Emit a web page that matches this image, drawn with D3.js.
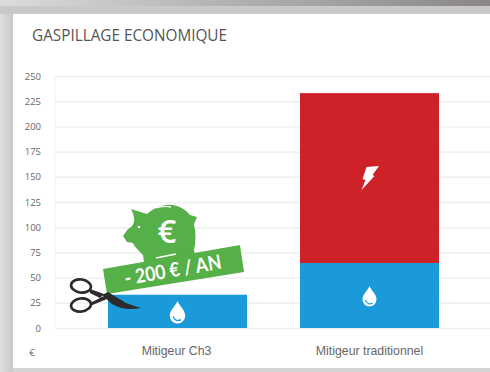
<!DOCTYPE html>
<html><head><meta charset="utf-8">
<script src="https://cdnjs.cloudflare.com/ajax/libs/d3/7.8.5/d3.min.js"></script>
<style>html,body{margin:0;padding:0;background:#fff}svg{display:block}</style></head>
<body><div id="chart"></div>
<script>
const categories = ["Mitigeur Ch3", "Mitigeur traditionnel"];
const waterValues = [33, 64.5];
const electricValues = [0, 168.5];
const tickValues = [0,25,50,75,100,125,150,175,200,225,250];
const titleText = "GASPILLAGE ECONOMIQUE";
const unitLabel = "€";
const savingLabel = "- 200 € / AN";

const W = 490, H = 372;
const svg = d3.select("#chart").append("svg").attr("width",W).attr("height",H);
const defs = svg.append("defs");
const g1 = defs.append("linearGradient").attr("id","top");
g1.append("stop").attr("offset","0").attr("stop-color","#dcdcdc");
g1.append("stop").attr("offset","0.45").attr("stop-color","#b4b2b2");
g1.append("stop").attr("offset","1").attr("stop-color","#8b8788");
const g2 = defs.append("linearGradient").attr("id","left");
g2.append("stop").attr("offset","0").attr("stop-color","#dedede");
g2.append("stop").attr("offset","0.026").attr("stop-color","#c9c9c9");
g2.append("stop").attr("offset","1").attr("stop-color","#c9c9c9");

svg.append("rect").attr("width",W).attr("height",H).attr("fill","url(#left)");
svg.append("rect").attr("width",W).attr("height",6).attr("fill","url(#top)");
svg.append("rect").attr("y",6).attr("width",W).attr("height",8).attr("fill","#c8c9ca");
svg.append("rect").attr("x",13).attr("y",14).attr("width",W-13).attr("height",354).attr("fill","#fff");
svg.append("rect").attr("x",13).attr("y",368).attr("width",W-13).attr("height",4).attr("fill","#d4d4d4");

svg.append("text").text(titleText).attr("x",32).attr("y",41)
  .attr("font-family","'Open Sans'").attr("font-size",15.5).attr("fill","#555")
  .attr("textLength",195).attr("lengthAdjust","spacingAndGlyphs");

const y = d3.scaleLinear().domain([0,250]).range([328,76]);
const x = d3.scalePoint().domain(categories).range([177.5,369.5]);
const barW = 139;

const axis = svg.append("g").attr("transform","translate(55,0)")
  .call(d3.axisLeft(y).tickValues(tickValues).tickSize(-(W-55)).tickPadding(14));
axis.select(".domain").remove();
axis.selectAll("line").attr("stroke","#eceeef").attr("stroke-width",1.4);
axis.selectAll("text").attr("font-family","'Open Sans'").attr("font-size",9.5).attr("fill","#666");
svg.append("line").attr("x1",55).attr("x2",55).attr("y1",y(250)).attr("y2",y(0))
  .attr("stroke","#f0f1f2").attr("stroke-width",1);
svg.append("text").text(unitLabel).attr("x",32).attr("y",356)
  .attr("text-anchor","middle").attr("font-family","'Open Sans'").attr("font-size",9.5).attr("fill","#666");

svg.selectAll(".water").data(categories).join("rect").attr("class","water")
  .attr("x",d=>x(d)-barW/2).attr("width",barW)
  .attr("y",(d,i)=>y(waterValues[i]))
  .attr("height",(d,i)=>y(0)-y(waterValues[i])).attr("fill","#1b9ad9");
svg.selectAll(".elec").data(categories).join("rect").attr("class","elec")
  .attr("x",d=>x(d)-barW/2).attr("width",barW)
  .attr("y",(d,i)=>y(waterValues[i]+electricValues[i]))
  .attr("height",(d,i)=>y(waterValues[i])-y(waterValues[i]+electricValues[i])).attr("fill","#cf2228");

svg.selectAll(".cat").data(categories).join("text").attr("class","cat").text(d=>d)
  .attr("x",d=>x(d)-(d===categories[0]?1:0)).attr("y",355).attr("text-anchor","middle")
  .attr("font-family","'Liberation Sans Narrow','Liberation Sans'").attr("font-size",12.3).attr("fill","#666");

// drop icons
const drop = "M0,-11 C2,-6 7,-3 7,2.5 A7,7 0 0 1 -7,2.5 C-7,-3 -2,-6 0,-11Z";
categories.forEach((c,i)=>{
  const t = svg.append("g").attr("transform",`translate(${x(c)},${i?297:313}) scale(${i?1:1.1})`);
  t.append("path").attr("d",drop).attr("fill","#fff");
  t.append("path").attr("d","M-4,3 A4.5,4.5 0 0 0 3,6").attr("fill","none").attr("stroke","#1b9ad9").attr("stroke-width",1.2);
});
// lightning
svg.append("path").attr("transform",`translate(${x(categories[1])},178)`)
  .attr("d","M-3,-11 L9.5,-12 L3,-3 L5,-2 L-8,12 L-4,2 L-7,1Z").attr("fill","#fff");

// piggy
const green = "#55b047";
const pig = svg.append("g");
pig.append("path").attr("fill",green).attr("d",
 "M131,209 L147,214 C155,207 165,204 172,205 C180,206 186,210 190,215 L197,217 L194,224 C196,232 196,242 194,250 L196,258 L144,262 L143,255 C138,250 134,246 133,243 L127,242 L123,236 L128,229 C134,226 137,220 131,209Z");
pig.append("path").attr("d","M156,208 C161,206 166,206 171,207").attr("stroke","#fff").attr("stroke-width",1.3).attr("fill","none");
pig.append("circle").attr("cx",139).attr("cy",227).attr("r",1.3).attr("fill","#fff");
pig.append("path").attr("d","M156,258 L176,254").attr("stroke","#fff").attr("stroke-width",1.5);
pig.append("text").text("€").attr("x",167).attr("y",243).attr("text-anchor","middle")
  .attr("font-family","'Open Sans'").attr("font-weight",600).attr("font-size",33).attr("fill","#fff");

// banner
svg.append("path").attr("d","M103,269 L240,245 L244,272 L107,294Z").attr("fill",green);
svg.append("text").text(savingLabel).attr("transform","translate(174,277) rotate(-10)")
  .attr("text-anchor","middle").attr("font-family","Lato").attr("font-weight",700)
  .attr("font-size",20).attr("fill","#fff")
  .attr("textLength",98).attr("lengthAdjust","spacingAndGlyphs");

// scissors
const sc = svg.append("g");
sc.append("ellipse").attr("cx",81).attr("cy",286).attr("rx",10).attr("ry",6.5).attr("transform","rotate(8 81 286)")
  .attr("fill","none").attr("stroke","#2b2b2b").attr("stroke-width",2.6);
sc.append("ellipse").attr("cx",81).attr("cy",305).attr("rx",10).attr("ry",6.5).attr("transform","rotate(-8 81 305)")
  .attr("fill","none").attr("stroke","#2b2b2b").attr("stroke-width",2.6);
sc.append("path").attr("d","M90,289 L104,294 L100,298 L90,293Z M90,303 L104,296 L107,299 L90,306Z").attr("fill","#2b2b2b");
sc.append("path").attr("d","M102,295 L108,292 L126,303 C132,305 137,307 141,308 C130,310 120,309 112,304Z").attr("fill","#2b2b2b");
</script></body></html>
